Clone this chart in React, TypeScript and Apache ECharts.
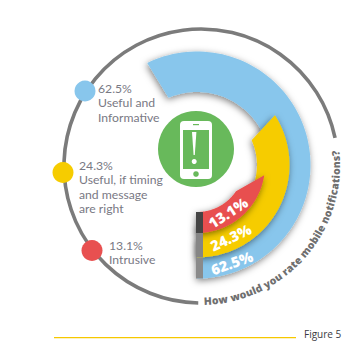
import React, { useEffect, useRef } from "react";
import * as echarts from "echarts";

const shares = [62.5, 24.3, 13.1];
const categories = [
  ["Useful and", "Informative"],
  ["Useful, if timing", "and message", "are right"],
  ["Intrusive"],
];
const outerSweeps = [206, 122.6, 81.4];
const innerSweeps = [203, 114.4, 56];
const colors = ["#88c6ec", "#f6cc00", "#e85050"];
const foldColors = ["#8a8a8a", "#858585", "#444444"];
const title = "How would you rate mobile notifications?";
const figureLabel = "Figure 5";

const CX = 197;
const CY = 165;
const outerR = [113.5, 92.5, 68];
const innerR = [73, 60, 47];
const labelR = [104, 80, 57];
const labelTheta = [19.6, 25, 33];
const foldInset = [20, 8, 0];
const dots = [
  [85, 91],
  [63, 172.5],
  [92, 250.5],
];
const legendText = [
  [98, 88],
  [79, 165],
  [109, 245],
];
const LEGEND_LH = 14.6;
const rad = Math.PI / 180;

function pt(r: number, deg: number): number[] {
  return [CX + r * Math.sin(deg * rad), CY + r * Math.cos(deg * rad)];
}

function band(i: number): number[][] {
  const pts: number[][] = [];
  const n = 90;
  for (let k = 0; k <= n; k++) pts.push(pt(outerR[i], (outerSweeps[i] * k) / n));
  for (let k = n; k >= 0; k--) pts.push(pt(innerR[i], (innerSweeps[i] * k) / n));
  return pts;
}

function curvedTitle(): any[] {
  const font = "800 10.4px 'Open Sans'";
  const ctx = document.createElement("canvas").getContext("2d")!;
  ctx.font = font;
  const widths = [...title].map((c) => ctx.measureText(c).width);
  const total = widths.reduce((a, b) => a + b, 0);
  const ringX = 201;
  const ringY = 166;
  const r = 135;
  const from = 1.2 * rad;
  const to = 96.5 * rad;
  const gap = ((to - from) * r - total) / (title.length - 1);
  let s = from * r;
  return [...title].map((c, i) => {
    const th = (s + widths[i] / 2) / r;
    s += widths[i] + gap;
    return {
      type: "text",
      x: ringX + r * Math.sin(th),
      y: ringY + r * Math.cos(th),
      rotation: th,
      style: {
        text: c,
        font,
        fill: "#6f6f6f",
        align: "center",
        verticalAlign: "middle",
      },
    };
  });
}

function legend(): any[] {
  const font = "12.2px Lato";
  const out: any[] = [];
  categories.forEach((lines, i) => {
    out.push({
      type: "circle",
      shape: { cx: dots[i][0], cy: dots[i][1], r: 10.5 },
      style: { fill: colors[i] },
      z: 5,
    });
    [`${shares[i]}%`, ...lines].forEach((t, j) => {
      out.push({
        type: "text",
        x: legendText[i][0],
        y: legendText[i][1] + j * LEGEND_LH,
        style: { text: t, font, fill: "#797984", verticalAlign: "middle" },
      });
    });
  });
  return out;
}

function phone(): any[] {
  const green = "#68b95b";
  return [
    { type: "circle", shape: { cx: 196, cy: 149, r: 38 }, style: { fill: green } },
    { type: "rect", z: 1, shape: { x: 180, y: 121, width: 32, height: 58, r: 4 }, style: { fill: "#fff" } },
    { type: "rect", z: 2, shape: { x: 183, y: 130, width: 26, height: 39 }, style: { fill: green } },
    { type: "rect", z: 2, shape: { x: 193, y: 124, width: 6, height: 1.2 }, style: { fill: green } },
    { type: "circle", z: 2, shape: { cx: 196, cy: 174, r: 2.8 }, style: { fill: green } },
    { type: "polygon", z: 3, shape: { points: [[192, 132], [196.4, 132], [194.8, 155], [193.6, 155]] }, style: { fill: "#fff" } },
    { type: "circle", z: 3, shape: { cx: 194.2, cy: 161.5, r: 2.5 }, style: { fill: "#fff" } },
  ];
}

function folds(): any[] {
  return shares.map((_, i) => ({
    type: "rect",
    z: 10,
    shape: { x: 196, y: CY + innerR[i] + foldInset[i], width: 7, height: outerR[i] - innerR[i] - foldInset[i] },
    style: { fill: foldColors[i] },
  }));
}

export default function App() {
  const ref = useRef<HTMLDivElement>(null);
  useEffect(() => {
    const chart = echarts.init(ref.current!, undefined, { renderer: "svg" });
    chart.setOption({
      animation: false,
      backgroundColor: "#ffffff",
      graphic: {
        elements: [
          {
            type: "arc",
            shape: { cx: 201, cy: 166, r: 137, startAngle: Math.PI / 2 + 0.02, endAngle: 2 * Math.PI - 0.207, clockwise: true },
            style: { stroke: "#7b7b7b", lineWidth: 3.6, fill: "none" },
          },
          ...legend(),
          ...phone(),
          ...folds(),
          ...curvedTitle(),
          { type: "rect", shape: { x: 54, y: 337, width: 242, height: 1.2 }, style: { fill: "#f6c800" } },
          {
            type: "text",
            x: 304,
            y: 334,
            style: { text: figureLabel, font: "10px 'Open Sans'", fill: "#3a3a42", verticalAlign: "middle" },
          },
        ],
      },
      series: [
        {
          type: "custom",
          coordinateSystem: "none",
          silent: true,
          data: shares,
          renderItem: (params: any) => {
            const i = params.dataIndex;
            const [lx, ly] = pt(labelR[i], labelTheta[i]);
            return {
              type: "group",
              children: [
                {
                  type: "polygon",
                  shape: { points: band(i) },
                  style: {
                    fill: colors[i],
                    shadowBlur: 7,
                    shadowColor: "rgba(0,0,0,0.5)",
                    shadowOffsetX: -1,
                    shadowOffsetY: 2,
                  },
                },
                {
                  type: "text",
                  x: lx,
                  y: ly,
                  rotation: labelTheta[i] * rad,
                  z2: 5,
                  style: {
                    text: `${shares[i]}%`,
                    font: "800 14.5px 'Open Sans'",
                    fill: "#ffffff",
                    align: "center",
                    verticalAlign: "middle",
                  },
                },
              ],
            };
          },
        },
      ],
    });
    return () => chart.dispose();
  }, []);
  return <div ref={ref} style={{ position: "fixed", left: 0, top: 0, width: 360, height: 363 }} />;
}
